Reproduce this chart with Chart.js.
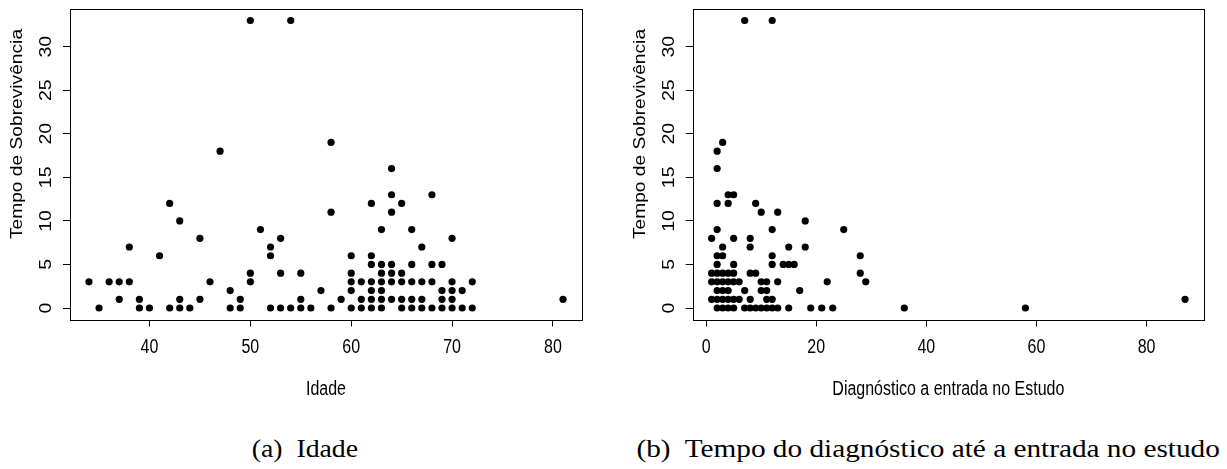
<!DOCTYPE html>
<html><head><meta charset="utf-8">
<script src="https://cdn.jsdelivr.net/npm/chart.js@4.4.1/dist/chart.umd.min.js"></script>
<style>
html,body{margin:0;padding:0;background:#fff;}
body{width:1227px;height:469px;position:relative;overflow:hidden;}
.box{position:absolute;top:0;height:420px;}
.cap{position:absolute;font-family:"Liberation Serif","Times New Roman",serif;font-size:25px;color:#000;white-space:nowrap;line-height:1;transform-origin:center center;}
</style></head>
<body>
<div class="box" style="left:0;width:613px"><canvas id="c1"></canvas></div>
<div class="box" style="left:613px;width:614px"><canvas id="c2"></canvas></div>
<div id="capA" class="cap">(a)&nbsp; Idade</div>
<div id="capB" class="cap">(b)&nbsp; Tempo do diagnóstico até a entrada no estudo</div>
<script>
// ---- data ----
const idadeX = [34,35,36,37,37,38,38,39,39,40,41,42,42,43,43,43,44,45,45,46,47,48,48,49,49,50,50,50,51,52,52,52,53,53,53,54,54,55,55,55,56,57,58,58,58,59,
  60,60,60,60,60, 61,61,61, 62,62,62,62,62,62,62, 63,63,63,63,63,63,63, 64,64,64,64,64,64,64,
  65,65,65,65,65, 66,66,66,66,66, 67,67,67,67, 68,68,68,68, 69,69,69,69, 70,70,70,70,70, 71,71, 72,72, 81];
const idadeY = [3,0,3,3,1,3,7,1,0,0,6,12,0,10,1,0,0,8,1,3,18,2,0,1,0,33,4,3,9,7,6,0,8,4,0,33,0,4,1,0,0,2,19,11,0,1,
  6,4,3,2,0, 3,1,0, 12,6,5,3,2,1,0, 9,5,4,3,2,1,0, 16,13,11,5,4,3,1,
  12,4,3,1,0, 9,5,3,1,0, 7,3,1,0, 13,5,3,0, 5,2,1,0, 8,3,2,1,0, 2,0, 3,0, 1];
const diagX = [7,12,3,2,2,4,5,2,4,9,10,13,18,2,12,25,1,5,8,3,8,15,18,2,3,12,28,
  2,5,12,14,15,16,
  1,2,3,4,5,8,9,28,
  1,2,3,4,5,6,10,11,13,22,29,
  2,3,4,7,10,11,17,
  1,2,3,4,5,6,8,11,12,87,
  2,3,4,5,7,8,9,10,11,12,13,15,19,21,23,36,58];
const diagY = [33,33,19,18,16,13,13,12,12,12,11,11,10,9,9,9,8,8,8,7,7,7,7,6,6,6,6,
  5,5,5,5,5,5,
  4,4,4,4,4,4,4,4,
  3,3,3,3,3,3,3,3,3,3,3,
  2,2,2,2,2,2,2,
  1,1,1,1,1,1,1,1,1,1,
  0,0,0,0,0,0,0,0,0,0,0,0,0,0,0,0,0];
const yTicks = [0,5,10,15,20,25,30];
const xTicksIdade = [40,50,60,70,80];
const xTicksDiag = [0,20,40,60,80];
const yLabel = 'Tempo de Sobrevivência';
const xLabelA = 'Idade';
const xLabelB = 'Diagnóstico a entrada no Estudo';

// ---- layout / styling ----
const SANS = '"Liberation Sans", Arial, sans-serif';
const FS = 19.5;      // tick / x-title font size (vertical)
const FS_Y = 19.2;    // y-title font size
const SQ = 0.82;      // horizontal squeeze of the R figure

function squeezedText(ctx, txt, x, y, rotated) {
  ctx.save();
  ctx.translate(x, y);
  if (rotated) { ctx.rotate(-Math.PI / 2); ctx.scale(1, SQ); }
  else { ctx.scale(SQ, 1); }
  ctx.fillText(txt, 0, 0);
  ctx.restore();
}

const rPlugin = {
  id: 'rstyle',
  afterDraw(chart, args, opts) {
    const {ctx, chartArea: a} = chart;
    const ys = chart.scales.y, xs = chart.scales.x;
    ctx.save();
    ctx.strokeStyle = '#000';
    ctx.lineWidth = 1;
    ctx.strokeRect(Math.round(a.left) + 0.5, Math.round(a.top) + 0.5, Math.round(a.right - a.left), Math.round(a.bottom - a.top));
    ctx.fillStyle = '#000';
    ctx.textAlign = 'center';
    ctx.textBaseline = 'middle';
    ctx.font = FS + 'px ' + SANS;
    yTicks.forEach(v => squeezedText(ctx, String(v), a.left - 23, ys.getPixelForValue(v), true));
    opts.xTicks.forEach(v => squeezedText(ctx, String(v), xs.getPixelForValue(v), 348, false));
    squeezedText(ctx, opts.xTitle, (a.left + a.right) / 2, 390, false);
    ctx.font = FS_Y + 'px ' + SANS;
    squeezedText(ctx, yLabel, a.left - 52, 134, true);
    ctx.restore();
  }
};

function makeCfg(xs, ys, xMin, xMax, xTicks, xTitle, geo) {
  return {
    type: 'scatter',
    data: { datasets: [{ data: xs.map((x, i) => ({ x: x, y: ys[i] })),
      backgroundColor: '#000', borderColor: '#000', pointRadius: 3.6, pointBorderWidth: 0, pointHoverRadius: 3.6 }] },
    options: {
      responsive: true, maintainAspectRatio: false, animation: false, events: [],
      layout: { padding: { left: 0, top: geo.top, right: geo.right, bottom: 0 } },
      plugins: { legend: { display: false }, tooltip: { enabled: false },
        rstyle: { xTicks: xTicks, xTitle: xTitle } },
      scales: {
        x: {
          type: 'linear', min: xMin, max: xMax,
          afterBuildTicks: s => { s.ticks = xTicks.map(v => ({ value: v })); },
          afterFit: s => { s.height = geo.xh; },
          grid: { display: true, drawOnChartArea: false, drawTicks: true, tickLength: 7, color: '#000', lineWidth: 1 },
          border: { display: false },
          ticks: { display: false }
        },
        y: {
          type: 'linear', min: -1.32, max: 34.32,
          afterBuildTicks: s => { s.ticks = yTicks.map(v => ({ value: v })); },
          afterFit: s => { s.width = geo.yw; },
          grid: { display: true, drawOnChartArea: false, drawTicks: true, tickLength: 7, color: '#000', lineWidth: 1 },
          border: { display: false },
          ticks: { display: false }
        }
      }
    },
    plugins: [rPlugin]
  };
}

new Chart(document.getElementById('c1'), makeCfg(idadeX, idadeY, 32.12, 82.88, xTicksIdade, xLabelA,
  { top: 9, right: 31, xh: 100.5, yw: 70 }));
new Chart(document.getElementById('c2'), makeCfg(diagX, diagY, -2.44, 90.44, xTicksDiag, xLabelB,
  { top: 9, right: 23, xh: 100.5, yw: 79.7 }));

function placeCap(id, cx, cy, targetW) {
  const el = document.getElementById(id);
  const w = el.offsetWidth, h = el.offsetHeight;
  el.style.left = (cx - w / 2) + 'px';
  el.style.top = (cy - h / 2) + 'px';
  el.style.transform = 'scaleX(' + (targetW / w) + ')';
}
placeCap('capA', 305, 448, 106.6);
placeCap('capB', 928.4, 448, 583);
</script>
</body></html>
